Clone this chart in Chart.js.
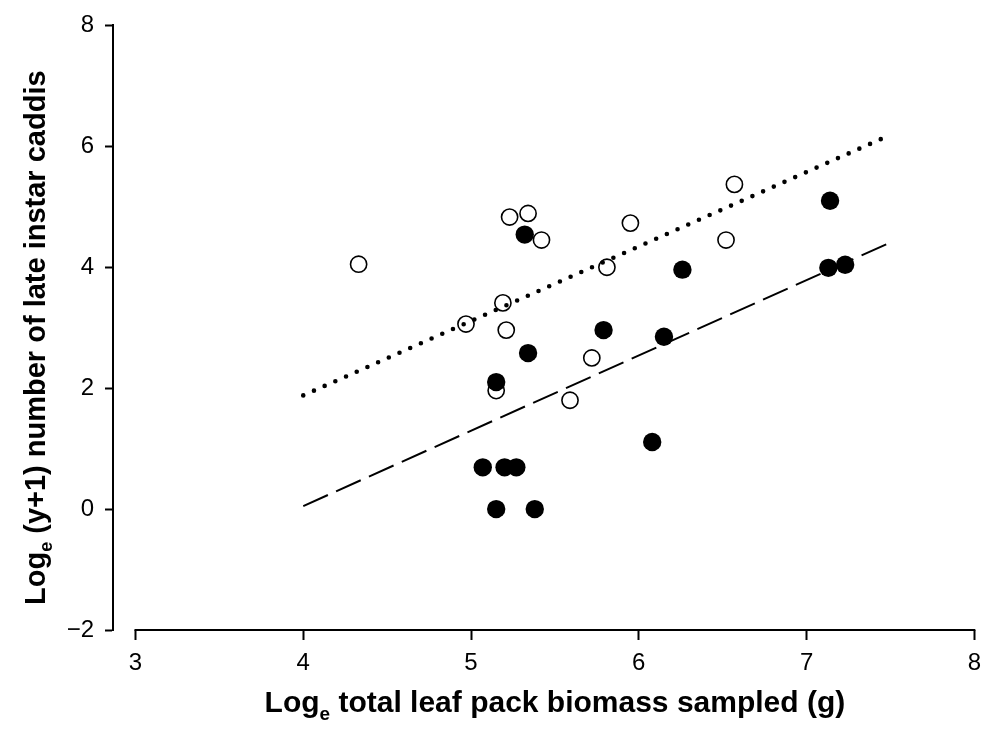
<!DOCTYPE html>
<html>
<head>
<meta charset="utf-8">
<title>Late instar caddis vs leaf pack biomass</title>
<script src="https://cdn.jsdelivr.net/npm/chart.js@4.4.1/dist/chart.umd.min.js"></script>
<style>
	html, body { margin: 0; padding: 0; background: #fff; }
	.chart-box { width: 990px; height: 734px; position: relative; }
</style>
</head>
<body>
<div class="chart-box"><canvas id="caddisChart"></canvas></div>
<script>
// open circles
const openX = [4.33, 5.23, 5.34, 5.42, 5.95, 5.81, 4.97, 5.19, 5.21, 5.72, 5.15, 5.59, 6.57, 6.52];
const openY = [4.05, 4.83, 4.89, 4.45, 4.73, 4.00, 3.06, 3.41, 2.96, 2.50, 1.96, 1.80, 5.37, 4.45];

// filled circles
const filledX = [5.32, 5.79, 5.34, 5.15, 7.14, 6.26, 7.13, 7.23, 6.15, 6.08, 5.07, 5.20, 5.27, 5.15, 5.38];
const filledY = [4.54, 2.96, 2.58, 2.10, 5.10, 3.96, 3.99, 4.04, 2.85, 1.11, 0.69, 0.69, 0.69, 0.00, 0.00];

// fitted lines (end points)
const fitX = [4, 7.5];
const dottedY = [1.88, 6.19];
const dashedY = [0.05, 4.41];

const xTicks = [3, 4, 5, 6, 7, 8];
const yTicks = [-2, 0, 2, 4, 6, 8];

const xTitle = [['Log', false], ['e', true], [' total leaf pack biomass sampled (g)', false]];
const yTitle = [['Log', false], ['e', true], [' (y+1) number of late instar caddis', false]];

const fontFamily = '"Liberation Sans", Arial, sans-serif';

const toPoints = (xs, ys) => xs.map((x, i) => ({ x: x, y: ys[i] }));

// draws "Log" + subscript e + rest, centred on (cx, cy)
function drawTitle(ctx, parts, cx, cy, angle, size) {
	const big = 'bold ' + size + 'px ' + fontFamily;
	const small = 'bold ' + Math.round(size * 0.62) + 'px ' + fontFamily;
	let total = 0;
	parts.forEach(p => {
		ctx.font = p[1] ? small : big;
		total += ctx.measureText(p[0]).width;
	});
	ctx.save();
	ctx.translate(cx, cy);
	ctx.rotate(angle);
	ctx.fillStyle = '#000';
	ctx.textBaseline = 'alphabetic';
	ctx.textAlign = 'left';
	let x = -total / 2;
	parts.forEach(p => {
		ctx.font = p[1] ? small : big;
		ctx.fillText(p[0], x, p[1] ? size * 0.25 : 0);
		x += ctx.measureText(p[0]).width;
	});
	ctx.restore();
}

const axesPlugin = {
	id: 'axesPlugin',
	afterDraw(chart) {
		const ctx = chart.ctx;
		const xs = chart.scales.x;
		const area = chart.chartArea;
		const x0 = xs.getPixelForValue(xTicks[0]);
		const x1 = xs.getPixelForValue(xTicks[xTicks.length - 1]);

		// x axis line only spans 3..8
		ctx.save();
		ctx.strokeStyle = '#000';
		ctx.lineWidth = 2;
		ctx.beginPath();
		ctx.moveTo(x0 - 1, area.bottom);
		ctx.lineTo(x1 + 1, area.bottom);
		ctx.stroke();
		ctx.restore();

		drawTitle(ctx, xTitle, (x0 + x1) / 2, 712, 0, 30);
		drawTitle(ctx, yTitle, 45, (area.top + area.bottom) / 2 + 10, -Math.PI / 2, 29);
	}
};

const chartCaddis = new Chart(document.getElementById('caddisChart'), {
	type: 'scatter',
	data: {
		datasets: [{
			label: 'dotted fit',
			data: toPoints(fitX, dottedY),
			showLine: true,
			pointRadius: 0,
			borderColor: '#000',
			borderWidth: 4.6,
			borderDash: [0, 11.7],
			borderCapStyle: 'round',
		}, {
			label: 'dashed fit',
			data: toPoints(fitX, dashedY),
			showLine: true,
			pointRadius: 0,
			borderColor: '#000',
			borderWidth: 2,
			borderDash: [27, 9],
		}, {
			label: 'filled',
			data: toPoints(filledX, filledY),
			pointRadius: 9.2,
			pointBorderWidth: 0,
			backgroundColor: '#000',
			borderColor: '#000',
		}, {
			label: 'open',
			data: toPoints(openX, openY),
			pointRadius: 8.1,
			pointBorderWidth: 1.6,
			backgroundColor: '#fff',
			borderColor: '#000',
		}]
	},
	options: {
		responsive: true,
		maintainAspectRatio: false,
		animation: false,
		clip: false,
		layout: {
			padding: { top: 20, right: 7, left: 0, bottom: 0 }
		},
		scales: {
			x: {
				type: 'linear',
				min: 2.866,
				max: 8,
				afterBuildTicks: scale => { scale.ticks = xTicks.map(v => ({ value: v })); },
				afterFit: scale => { scale.height = 104; },
				border: { display: false },
				grid: {
					drawOnChartArea: false,
					tickLength: 10,
					tickWidth: 2,
					tickColor: '#000',
				},
				ticks: {
					color: '#000',
					padding: 9,
					font: { family: fontFamily, size: 24 },
				}
			},
			y: {
				type: 'linear',
				min: -2,
				max: 8,
				afterBuildTicks: scale => { scale.ticks = yTicks.map(v => ({ value: v })); },
				afterFit: scale => { scale.width = 113; },
				border: { display: true, color: '#000', width: 2 },
				grid: {
					drawOnChartArea: false,
					tickLength: 8,
					tickWidth: 2,
					tickColor: '#000',
				},
				ticks: {
					color: '#000',
					padding: 11,
					font: { family: fontFamily, size: 24 },
					callback: v => (v < 0 ? '\u2212' + Math.abs(v) : v)
				}
			}
		},
		plugins: {
			legend: { display: false },
			tooltip: { enabled: false }
		}
	},
	plugins: [axesPlugin]
});
</script>
</body>
</html>
